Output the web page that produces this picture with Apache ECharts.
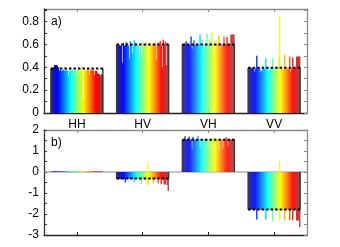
<!DOCTYPE html>
<html><head><meta charset="utf-8">
<script src="https://cdn.jsdelivr.net/npm/echarts@6/dist/echarts.min.js"></script>
<style>html,body{margin:0;padding:0;background:#fff}#c{width:340px;height:247px}</style>
</head><body><div id="c"></div>
<script>
const categories = ['HH', 'HV', 'VH', 'VV'];
const meanA = [0.39, 0.60, 0.60, 0.395];
const meanB = [null, -0.31, 1.54, -1.79];

// panel a) sub-bar values (52 per category)
const aHH = [0.39,0.39,0.40,0.42,0.42,0.42,0.41,0.40,0.37,0.38,0.37,0.37,0.38,0.37,0.37,0.38,0.37,0.33,0.37,0.38,0.37,0.38,0.37,0.37,0.38,0.33,0.38,0.38,0.37,0.38,0.38,0.37,0.12,0.38,0.38,0.37,0.38,0.38,0.33,0.38,0.37,0.38,0.37,0.33,0.37,0.37,0.35,0.34,0.34,0.33,0.34,0.33];
const aHV = [0.59,0.59,0.595,0.59,0.59,0.44,0.615,0.59,0.595,0.62,0.59,0.59,0.48,0.627,0.595,0.52,0.59,0.636,0.62,0.59,0.59,0.595,0.50,0.59,0.50,0.59,0.62,0.59,0.595,0.615,0.59,0.59,0.59,0.615,0.59,0.595,0.59,0.59,0.615,0.47,0.59,0.62,0.595,0.633,0.59,0.40,0.64,0.60,0.625,0.42,0.61,0.60];
const aVH = [0.60,0.60,0.60,0.627,0.60,0.595,0.60,0.595,0.67,0.56,0.60,0.636,0.60,0.595,0.60,0.60,0.595,0.686,0.60,0.64,0.60,0.56,0.60,0.595,0.695,0.60,0.60,0.65,0.60,0.706,0.60,0.525,0.60,0.64,0.60,0.595,0.677,0.56,0.60,0.60,0.595,0.67,0.60,0.60,0.666,0.60,0.60,0.60,0.686,0.686,0.686,0.686];
const aVV = [0.395,0.395,0.39,0.395,0.39,0.39,0.36,0.39,0.50,0.39,0.385,0.39,0.36,0.37,0.385,0.39,0.385,0.48,0.39,0.385,0.36,0.39,0.385,0.39,0.48,0.39,0.385,0.39,0.39,0.385,0.51,0.85,0.39,0.385,0.39,0.39,0.51,0.385,0.39,0.39,0.385,0.495,0.36,0.39,0.486,0.39,0.385,0.39,0.495,0.495,0.495,0.495];

// panel b) sub-bar values (52 per category)
const bHH = [0.03,0.03,0.02,0.03,0.03,0.02,0.03,0.03,0.03,0.02,0.03,0.03,0.02,0.03,0.03,0.03,0.02,0.03,0.03,0.02,0.03,0.03,0.03,0.02,0.03,0.03,0.02,0.03,0.03,0.03,0.02,0.03,0.03,0.02,0.03,0.03,0.03,0.02,0.03,0.03,0.02,0.03,0.03,0.03,0.02,0.03,0.03,0.02,0.03,0.03,0.03,0.02];
const bHV = [-0.33,-0.33,-0.33,-0.34,-0.33,-0.33,-0.34,-0.33,-0.50,-0.33,-0.34,-0.33,-0.33,-0.33,-0.34,-0.33,-0.33,-0.50,-0.33,-0.34,-0.33,-0.33,-0.33,-0.34,-0.58,-0.33,-0.33,-0.34,-0.33,-0.33,-0.58,-0.66,-0.33,-0.34,-0.33,-0.33,-0.53,-0.33,-0.34,-0.33,-0.33,-0.55,-0.33,-0.34,-0.58,-0.33,-0.34,-0.60,-0.60,-0.33,-0.62,-0.90];
const bVH = [1.54,1.55,1.70,1.55,1.54,1.55,1.68,1.54,1.55,1.07,1.68,1.55,1.54,1.55,1.54,1.73,1.55,1.15,1.54,1.55,1.54,1.54,1.55,1.54,1.55,1.20,1.54,1.55,1.54,1.54,1.65,1.54,1.55,1.54,1.54,1.55,0.99,1.54,1.55,1.54,1.10,1.55,1.54,1.67,1.55,1.20,1.54,1.55,1.54,1.55,1.55,1.55];
const bVV = [-1.79,-1.79,-1.80,-1.79,-1.79,-1.80,-1.79,-1.79,-2.26,-1.79,-1.80,-1.79,-1.79,-1.80,-1.79,-1.79,-1.80,-2.26,-1.79,-1.79,-1.80,-1.79,-1.79,-1.80,-2.34,-1.79,-1.79,-1.80,-1.79,-1.79,-1.80,-2.31,-1.79,-1.80,-1.79,-1.79,-2.31,-1.80,-1.79,-1.79,-1.80,-2.28,-1.79,-1.80,-2.28,-1.79,-1.80,-1.79,-2.31,-2.31,-2.31,-2.62];

// error lines in panel b: [category, sub-bar, low, high]
const errB = [[1, 31, -0.66, 0.44], [3, 31, -2.31, 0.52]];

const N = 52, GROUP = 0.79;
function jet(t) {
  const stops = [[0, [30, 30, 140]], [0.125, [0, 0, 255]], [0.375, [0, 255, 255]], [0.625, [255, 255, 0]], [0.875, [255, 0, 0]], [1, [165, 60, 60]]];
  for (let k = 0; k < stops.length - 1; k++) {
    const a = stops[k], b = stops[k + 1];
    if (t <= b[0]) {
      const f = (t - a[0]) / (b[0] - a[0]);
      const c = a[1].map((v, j) => Math.round(v + (b[1][j] - v) * f));
      return 'rgb(' + c.join(',') + ')';
    }
  }
  return 'rgb(165,60,60)';
}
function subData(groups) {
  const out = [];
  groups.forEach((arr, ci) => arr.forEach((v, i) => out.push([ci, i, v])));
  return out;
}
function subBarItem(params, api) {
  const cat = api.value(0), idx = api.value(1), v = api.value(2);
  const base = api.coord([cat, 0]);
  const top = api.coord([cat, v]);
  const gw = api.size([1, 0])[0] * GROUP, sw = gw / N;
  const x = base[0] - gw / 2 + idx * sw;
  return { type: 'rect', shape: { x: x, y: Math.min(base[1], top[1]), width: sw + 0.3, height: Math.abs(top[1] - base[1]) },
    style: { fill: jet(idx / (N - 1)) } };
}
function errItem(params, api) {
  const cat = api.value(0), idx = api.value(1);
  const lo = api.coord([cat, api.value(2)]), hi = api.coord([cat, api.value(3)]);
  const gw = api.size([1, 0])[0] * GROUP, sw = gw / N;
  const x = lo[0] - gw / 2 + (idx + 0.5) * sw;
  return { type: 'line', shape: { x1: x, y1: lo[1], x2: x, y2: hi[1] }, style: { stroke: jet(idx / (N - 1)), lineWidth: 1.2 } };
}
function outlineItem(params, api) {
  const cat = api.value(0), m = api.value(1);
  const base = api.coord([cat, 0]), top = api.coord([cat, m]);
  const gw = api.size([1, 0])[0] * GROUP;
  const x0 = base[0] - gw / 2, x1 = base[0] + gw / 2;
  return { type: 'group', children: [
    { type: 'line', shape: { x1: x0, y1: base[1], x2: x0, y2: top[1] }, style: { stroke: '#3a3a3a', lineWidth: 1.5 } },
    { type: 'line', shape: { x1: x1, y1: base[1], x2: x1, y2: top[1] }, style: { stroke: '#3a3a3a', lineWidth: 1.5 } },
    { type: 'line', shape: { x1: x0, y1: top[1], x2: x1, y2: top[1] }, style: { stroke: '#000', lineWidth: 2, lineDash: [2.5, 2] } }
  ] };
}
function zeroItem(params, api) {
  const p = api.coord([0, 0]);
  const cs = params.coordSys;
  return { type: 'line', shape: { x1: cs.x, y1: p[1], x2: cs.x + cs.width, y2: p[1] }, style: { stroke: '#8a8a8a', lineWidth: 1.2 } };
}
function meanData(arr) {
  const out = [];
  arr.forEach((m, i) => { if (m !== null) out.push([i, m]); });
  return out;
}

const FONT = 'Liberation Sans';
const dark = '#333', gray = '#8c8c8c';
function xAx(grid, pos, showLabel, color) {
  return { type: 'category', gridIndex: grid, position: pos, data: categories,
    axisLine: { show: true, onZero: false, lineStyle: { color: color, width: 1.3 } },
    axisTick: { show: true, inside: true, alignWithLabel: true, length: 3, lineStyle: { color: color } },
    axisLabel: { show: showLabel, color: '#000', fontSize: 12, fontFamily: FONT, margin: 6 },
    splitLine: { show: false } };
}
function yAx(grid, pos, min, max, interval, showLabel, color, minor) {
  return { type: 'value', gridIndex: grid, position: pos, min: min, max: max, interval: interval,
    axisLine: { show: true, onZero: false, lineStyle: { color: color, width: 1.3 } },
    axisTick: { show: true, inside: true, length: 3, lineStyle: { color: color } },
    minorTick: { show: minor, splitNumber: 2, length: 3, lineStyle: { color: color } },
    axisLabel: { show: showLabel, color: '#000', fontSize: 12, fontFamily: FONT, margin: 5, showMaxLabel: max === 2 },
    splitLine: { show: false } };
}

const chart = echarts.init(document.getElementById('c'), null, { renderer: 'canvas' });
chart.setOption({
  animation: false,
  backgroundColor: '#fff',
  grid: [
    { left: 44, right: 33, top: 9, height: 104 },
    { left: 44, right: 33, top: 130, height: 105 }
  ],
  xAxis: [
    xAx(0, 'bottom', true, '#222'),
    xAx(0, 'top', false, gray),
    xAx(1, 'bottom', false, '#222'),
    xAx(1, 'top', false, gray)
  ],
  yAxis: [
    yAx(0, 'left', 0, 0.91, 0.2, true, dark, true),
    yAx(0, 'right', 0, 0.91, 0.1, false, gray, false),
    yAx(1, 'left', -3, 2, 1, true, dark, true),
    yAx(1, 'right', -3, 2, 0.5, false, gray, false)
  ],
  graphic: [
    { type: 'text', left: 51, top: 16, style: { text: 'a)', font: '12px "Liberation Sans"', fill: '#000' } },
    { type: 'text', left: 51, top: 137, style: { text: 'b)', font: '12px "Liberation Sans"', fill: '#000' } }
  ],
  series: [
    { type: 'custom', xAxisIndex: 2, yAxisIndex: 2, renderItem: zeroItem, data: [[0, 0]], z: 1, silent: true },
    { type: 'custom', xAxisIndex: 0, yAxisIndex: 0, renderItem: subBarItem, data: subData([aHH, aHV, aVH, aVV]), z: 2, silent: true },
    { type: 'custom', xAxisIndex: 2, yAxisIndex: 2, renderItem: subBarItem, data: subData([bHH, bHV, bVH, bVV]), z: 2, silent: true },
    { type: 'custom', xAxisIndex: 2, yAxisIndex: 2, renderItem: errItem, data: errB, z: 3, silent: true },
    { type: 'custom', xAxisIndex: 0, yAxisIndex: 0, renderItem: outlineItem, data: meanData(meanA), z: 4, silent: true },
    { type: 'custom', xAxisIndex: 2, yAxisIndex: 2, renderItem: outlineItem, data: meanData(meanB), z: 4, silent: true }
  ]
});
</script></body></html>
